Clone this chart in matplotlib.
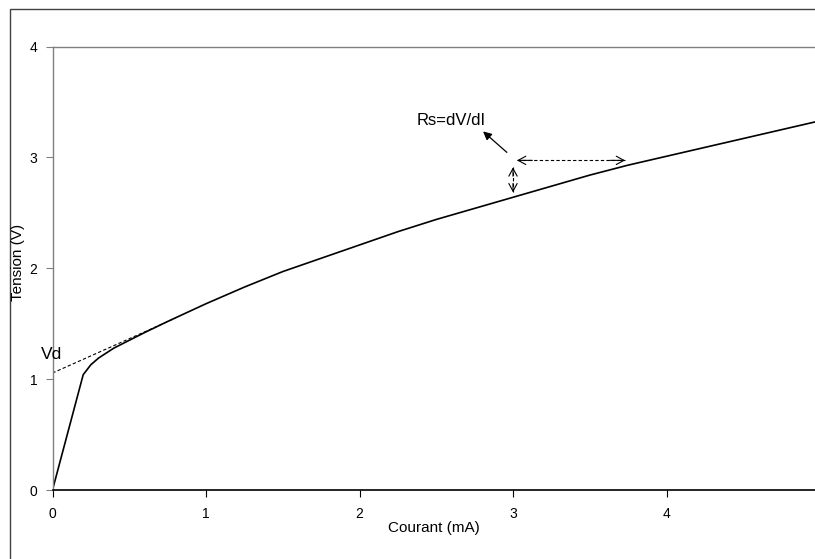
import matplotlib
matplotlib.use("Agg")
import matplotlib.pyplot as plt
from matplotlib.patches import Rectangle

plt.rcParams['font.family'] = ['Liberation Sans', 'DejaVu Sans']

# Diode I-V characteristic
courant = [0, 0.2, 0.25, 0.3, 0.4, 0.5, 0.6, 0.75, 1.0, 1.25, 1.5, 1.75, 2.0,
           2.25, 2.5, 2.75, 3.0, 3.25, 3.5, 3.75, 4.0, 4.25, 4.5, 4.75, 5.0]
tension = [0, 1.04, 1.13, 1.19, 1.28, 1.35, 1.42, 1.52, 1.68, 1.83, 1.97, 2.09, 2.21,
           2.33, 2.44, 2.54, 2.64, 2.74, 2.84, 2.93, 3.01, 3.09, 3.17, 3.25, 3.33]

# Tangent used to extrapolate the threshold voltage Vd
tangente_i = [0, 0.8]
tangente_v = [1.055, 1.55]

xticks = [0, 1, 2, 3, 4, 5]
yticks = [0, 1, 2, 3, 4]

W, H = 815, 559
fig = plt.figure(figsize=(W / 100, H / 100), dpi=100)

x0, x1 = 52.5, 820.0
y0, y1 = 490.0, 46.5
ax = fig.add_axes([x0 / W, 1 - y0 / H, (x1 - x0) / W, (y0 - y1) / H])

ax.plot(courant, tension, color='black', lw=1.2, solid_joinstyle='round')
ax.plot(tangente_i, tangente_v, color='black', lw=0.8, ls=(0, (3, 2)))

ax.set_xlim(0, 5)
ax.set_ylim(0, 4)
ax.set_xticks(xticks)
ax.set_yticks(yticks)
ax.set_xticklabels([str(t) for t in xticks], fontsize=10)
ax.set_yticklabels([str(t) for t in yticks], fontsize=10)
ax.tick_params(axis='x', direction='out', length=5, width=0.8, color='black', pad=7)
ax.tick_params(axis='y', direction='out', length=5, width=0.8, color='#808080', pad=6)

for side in ('left', 'top', 'right'):
    ax.spines[side].set_color('#808080')
    ax.spines[side].set_linewidth(1.0)
ax.spines['bottom'].set_color('black')
ax.spines['bottom'].set_linewidth(1.2)

# Annotations
ax.text(-0.075, 1.18, 'Vd', fontsize=12.5, ha='left', va='baseline', clip_on=False)
ax.text(2.824, 3.288, 'Rs=dV/dI', fontsize=12, ha='right', va='baseline')
ax.annotate('', xy=(2.805, 3.234), xytext=(2.96, 3.045),
            arrowprops=dict(arrowstyle='-|>,head_length=0.5,head_width=0.25',
                            color='black', lw=0.9, mutation_scale=10,
                            shrinkA=0, shrinkB=0))

# dI (horizontal) and dV (vertical) increments
dash = (0, (3, 2))
h_start, h_end, h_v = 3.026, 3.73, 2.973
v_i, v_top, v_bot = 3.0, 2.91, 2.685
ax.plot([h_start, h_end], [h_v, h_v], color='black', lw=0.8, ls=dash)
ax.plot([v_i, v_i], [v_bot, v_top], color='black', lw=0.8, ls=dash)
head = dict(arrowstyle='->,head_length=0.55,head_width=0.3', color='black',
            lw=0.8, mutation_scale=10, shrinkA=0, shrinkB=0)
ax.annotate('', xy=(h_start, h_v), xytext=(h_start + 0.1, h_v), arrowprops=head)
ax.annotate('', xy=(h_end, h_v), xytext=(h_end - 0.1, h_v), arrowprops=head)
ax.annotate('', xy=(v_i, v_top), xytext=(v_i, v_top - 0.08), arrowprops=head)
ax.annotate('', xy=(v_i, v_bot), xytext=(v_i, v_bot + 0.08), arrowprops=head)

# Axis titles
fig.text(434 / W, 1 - 528 / H, 'Courant (mA)', fontsize=11, ha='center', va='center')
fig.text(18 / W, 1 - 262 / H, 'Tension (V)', fontsize=11, ha='center', va='center',
         rotation=90)

# Chart area border
fig.patches.append(Rectangle((9.5 / W, -0.1), 1.2, 1 - 9.5 / H + 0.1,
                             transform=fig.transFigure, fill=False,
                             edgecolor='#404040', lw=1.0))

fig.savefig('out.png', dpi=100)
